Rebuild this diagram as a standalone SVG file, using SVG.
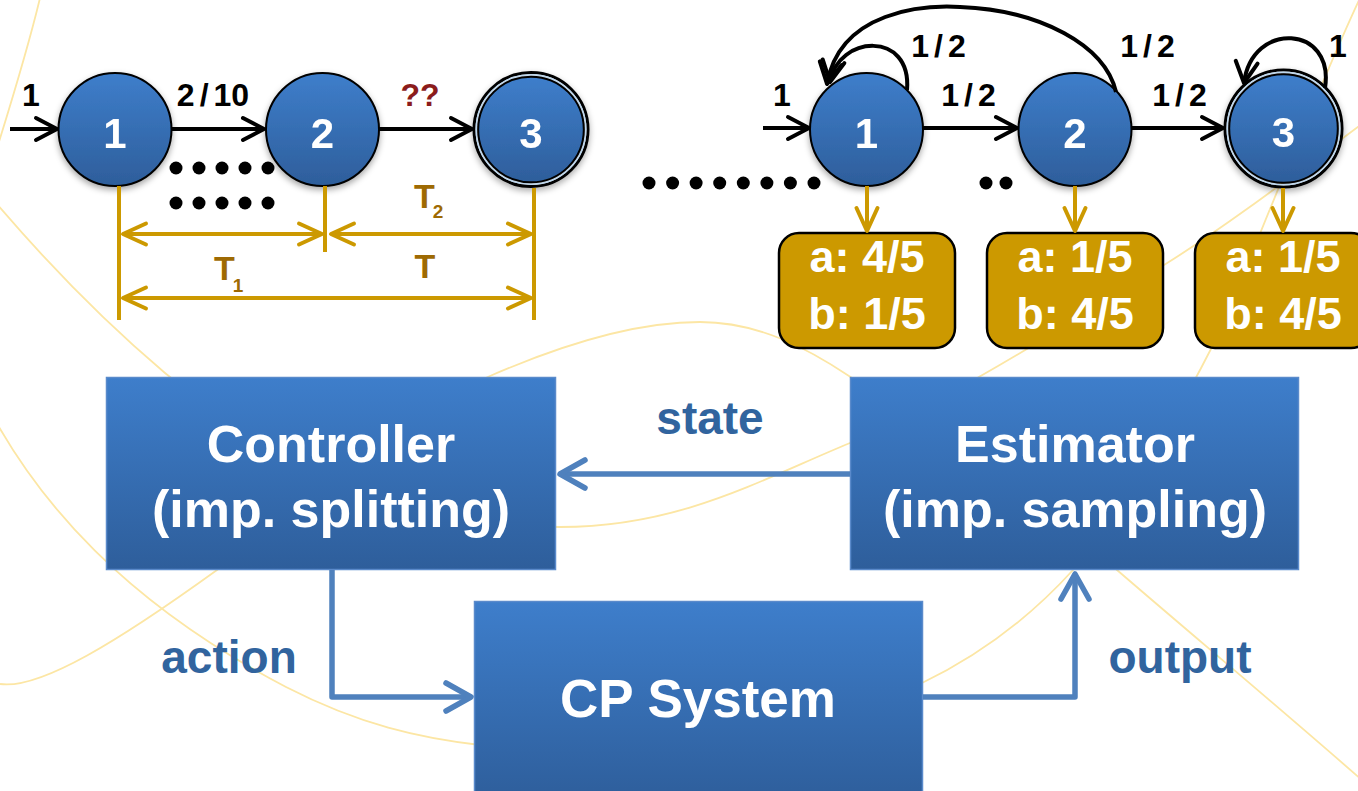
<svg xmlns="http://www.w3.org/2000/svg" width="1358" height="791" viewBox="0 0 1358 791">
  <defs>
    <linearGradient id="blueFill" x1="0" y1="0" x2="0" y2="1">
      <stop offset="0" stop-color="#3E7ECB"/>
      <stop offset="1" stop-color="#2E5E9B"/>
    </linearGradient>
    <filter id="nodeShadow" x="-30%" y="-30%" width="160%" height="170%">
      <feDropShadow dx="0" dy="3" stdDeviation="3" flood-color="#000" flood-opacity="0.35"/>
    </filter>
    <marker id="arrowBlack" viewBox="-26 -14 30 28" markerWidth="30" markerHeight="28" refX="0" refY="0" orient="auto-start-reverse" markerUnits="userSpaceOnUse">
      <path d="M-21,-11 L0,0 L-21,11" fill="none" stroke="#000" stroke-width="4" stroke-linecap="round" stroke-linejoin="round"/>
    </marker>
    <marker id="arrowGold" viewBox="-28 -14 32 28" markerWidth="32" markerHeight="28" refX="0" refY="0" orient="auto-start-reverse" markerUnits="userSpaceOnUse">
      <path d="M-23,-10.5 L0,0 L-23,10.5" fill="none" stroke="#CC9900" stroke-width="4" stroke-linecap="round" stroke-linejoin="round"/>
    </marker>
    <marker id="arrowBlue" viewBox="-30 -18 34 36" markerWidth="34" markerHeight="36" refX="0" refY="0" orient="auto-start-reverse" markerUnits="userSpaceOnUse">
      <path d="M-25,-14 L0,0 L-25,14" fill="none" stroke="#4F81BD" stroke-width="5.5" stroke-linecap="round" stroke-linejoin="round"/>
    </marker>
  </defs>
  <style>
    .deco { fill: none; stroke: #FCE6A4; stroke-width: 1.8; }
    .node { fill: url(#blueFill); stroke: #000; stroke-width: 2; }
    .nodeLabel { font-family: "Liberation Sans", Arial, sans-serif; font-weight: bold; font-size: 42px; fill: #fff; text-anchor: middle; }
    .edge { fill: none; stroke: #000; stroke-width: 4; marker-end: url(#arrowBlack); }
    .edgeLabel { font-family: "Liberation Sans", Arial, sans-serif; font-weight: bold; font-size: 32px; fill: #000; text-anchor: middle; letter-spacing: 5px; }
    .dot { fill: #000; }
    .dim { fill: none; stroke: #CC9900; stroke-width: 4; }
    .dimArrow { fill: none; stroke: #CC9900; stroke-width: 4; marker-start: url(#arrowGold); marker-end: url(#arrowGold); }
    .goldArrow { fill: none; stroke: #CC9900; stroke-width: 4; marker-end: url(#arrowGold); }
    .dimLabel { font-family: "Liberation Sans", Arial, sans-serif; font-weight: bold; font-size: 34px; fill: #9E6A03; }
    .emitBox { fill: #CC9900; stroke: #000; stroke-width: 2.5; }
    .emitText { font-family: "Liberation Sans", Arial, sans-serif; font-weight: bold; font-size: 45px; fill: #fff; text-anchor: middle; }
    .block { fill: url(#blueFill); stroke: #5A8ACB; stroke-width: 1.5; }
    .blockText { font-family: "Liberation Sans", Arial, sans-serif; font-weight: bold; font-size: 52px; fill: #fff; text-anchor: middle; }
    .flow { fill: none; stroke: #4F81BD; stroke-width: 5.5; stroke-linejoin: round; marker-end: url(#arrowBlue); }
    .flowLabel { font-family: "Liberation Sans", Arial, sans-serif; font-weight: bold; font-size: 46px; fill: #31649E; text-anchor: middle; }
  </style>

  <rect x="0" y="0" width="1358" height="791" fill="#fff"/>

  <!-- decorative background waves -->
  <g id="background-waves">
    <path class="deco" d="M40,-2 C30,40 12,100 -2,145"/>
    <path class="deco" d="M-10,196 C40,255 100,318 165,373 C260,453 430,527 560,527 C680,527 760,480 850,443 C930,410 1060,330 1164,265 C1230,224 1300,170 1370,118"/>
    <path class="deco" d="M-5,420 C40,500 120,600 286,687 C360,725 420,738 480,745"/>
    <path class="deco" d="M0,684 C40,690 120,640 217,570 C314,500 392,418 490,376 C568,342 640,322 700,322 C760,322 810,350 849,376 C946,441 1037,501 1117,570 C1197,639 1300,725 1380,796"/>
    <path class="deco" d="M1370,-22 C1345,24 1253,249 1238,290 C1218,345 1123,515 1073,570 C1023,625 970,660 922,683 C870,708 820,725 780,735"/>
  </g>

  <!-- left chain: nodes -->
  <g id="L1" filter="url(#nodeShadow)">
    <circle class="node" cx="115" cy="129.5" r="56.5"/>
    <text class="nodeLabel" x="115" y="148">1</text>
  </g>
  <g id="L2" filter="url(#nodeShadow)">
    <circle class="node" cx="322.5" cy="129.5" r="56.5"/>
    <text class="nodeLabel" x="322.5" y="148">2</text>
  </g>
  <g id="L3" filter="url(#nodeShadow)">
    <circle cx="531" cy="129.5" r="57" fill="none" stroke="#000" stroke-width="3"/>
    <circle cx="531" cy="129.5" r="54.8" fill="none" stroke="#BDD7EE" stroke-width="1.5"/>
    <circle class="node" cx="531" cy="129.5" r="52.8" stroke-width="2.5"/>
    <text class="nodeLabel" x="531" y="148">3</text>
  </g>

  <!-- right chain: nodes -->
  <g id="R1" filter="url(#nodeShadow)">
    <circle class="node" cx="866.5" cy="129.5" r="56.5"/>
    <text class="nodeLabel" x="866.5" y="148">1</text>
  </g>
  <g id="R2" filter="url(#nodeShadow)">
    <circle class="node" cx="1075" cy="129.5" r="56.5"/>
    <text class="nodeLabel" x="1075" y="148">2</text>
  </g>
  <g id="R3" filter="url(#nodeShadow)">
    <circle cx="1283.5" cy="128.5" r="58.5" fill="none" stroke="#000" stroke-width="3"/>
    <circle cx="1283.5" cy="128.5" r="56.3" fill="none" stroke="#BDD7EE" stroke-width="1.5"/>
    <circle class="node" cx="1283.5" cy="128.5" r="54.3" stroke-width="2.5"/>
    <text class="nodeLabel" x="1283.5" y="147">3</text>
  </g>

  <!-- emission boxes -->
  <g id="E1">
    <rect class="emitBox" x="779" y="233" width="176" height="115" rx="20"/>
    <text class="emitText" x="867" y="272">a: 4/5</text>
    <text class="emitText" x="867" y="329">b: 1/5</text>
  </g>
  <g id="E2">
    <rect class="emitBox" x="987" y="233" width="176" height="115" rx="20"/>
    <text class="emitText" x="1075" y="272">a: 1/5</text>
    <text class="emitText" x="1075" y="329">b: 4/5</text>
  </g>
  <g id="E3">
    <rect class="emitBox" x="1195" y="233" width="176" height="115" rx="20"/>
    <text class="emitText" x="1283" y="272">a: 1/5</text>
    <text class="emitText" x="1283" y="329">b: 4/5</text>
  </g>

  <!-- block diagram -->
  <g id="controller">
    <rect class="block" x="106.5" y="377.5" width="449" height="192"/>
    <text class="blockText" x="331" y="462">Controller</text>
    <text class="blockText" x="331" y="527">(imp. splitting)</text>
  </g>
  <g id="estimator">
    <rect class="block" x="850.5" y="377.5" width="448" height="192"/>
    <text class="blockText" x="1075" y="462">Estimator</text>
    <text class="blockText" x="1075" y="527">(imp. sampling)</text>
  </g>
  <g id="cp-system">
    <rect class="block" x="474.5" y="601.5" width="448" height="200"/>
    <text class="blockText" x="698" y="717" style="font-size:53px">CP System</text>
  </g>

  <!-- connectors -->
  <g id="connectors">
    <!-- left chain transitions -->
    <path class="edge" d="M10,129 H57"/>
    <path class="edge" d="M171,129 H264"/>
    <path class="edge" d="M379,129 H472"/>
    <text class="edgeLabel" x="31" y="106" style="letter-spacing:0">1</text>
    <text class="edgeLabel" x="213" y="106"><tspan style="letter-spacing:5px">2/</tspan><tspan style="letter-spacing:0">10</tspan></text>
    <text class="edgeLabel" x="420" y="106" style="fill:#8B1C1C;letter-spacing:0">??</text>

    <g id="left-dots">
      <circle class="dot" cx="176" cy="168" r="6.5"/>
      <circle class="dot" cx="199" cy="168" r="6.5"/>
      <circle class="dot" cx="222" cy="168" r="6.5"/>
      <circle class="dot" cx="245" cy="168" r="6.5"/>
      <circle class="dot" cx="268" cy="168" r="6.5"/>
      <circle class="dot" cx="176" cy="203" r="6.5"/>
      <circle class="dot" cx="199" cy="203" r="6.5"/>
      <circle class="dot" cx="222" cy="203" r="6.5"/>
      <circle class="dot" cx="245" cy="203" r="6.5"/>
      <circle class="dot" cx="268" cy="203" r="6.5"/>
    </g>

    <!-- timing dimensions -->
    <path class="dim" d="M119,186 V320"/>
    <path class="dim" d="M325,186 V252"/>
    <path class="dim" d="M534,188 V320"/>
    <path class="dimArrow" d="M123,234 H322"/>
    <path class="dimArrow" d="M331,234 H531"/>
    <path class="dimArrow" d="M123,298 H531"/>
    <text class="dimLabel" x="414" y="208">T<tspan font-size="19" dx="-2" dy="10">2</tspan></text>
    <text class="dimLabel" x="214" y="280">T<tspan font-size="19" dx="-2" dy="12">1</tspan></text>
    <text class="dimLabel" x="425" y="278" text-anchor="middle">T</text>

    <!-- right chain transitions -->
    <path class="edge" d="M763,128 H809"/>
    <path class="edge" d="M923,128 H1017"/>
    <path class="edge" d="M1132,128 H1223"/>
    <path class="edge" d="M907,90 C912,30 838,35 830,82"/>
    <path class="edge" d="M1116,92 C1105,45 1040,10 960,7 C925,5 840,10 827,84"/>
    <path class="edge" d="M1325,88 C1335,25 1252,20 1244,83"/>
    <text class="edgeLabel" x="782" y="106" style="letter-spacing:0">1</text>
    <text class="edgeLabel" x="971" y="106">1/2</text>
    <text class="edgeLabel" x="1182" y="106">1/2</text>
    <text class="edgeLabel" x="941" y="57">1/2</text>
    <text class="edgeLabel" x="1150" y="57">1/2</text>
    <text class="edgeLabel" x="1338" y="57" style="letter-spacing:0">1</text>

    <g id="right-dots">
      <circle class="dot" cx="649" cy="183" r="6.5"/>
      <circle class="dot" cx="672.6" cy="183" r="6.5"/>
      <circle class="dot" cx="696.1" cy="183" r="6.5"/>
      <circle class="dot" cx="719.7" cy="183" r="6.5"/>
      <circle class="dot" cx="743.3" cy="183" r="6.5"/>
      <circle class="dot" cx="766.9" cy="183" r="6.5"/>
      <circle class="dot" cx="790.4" cy="183" r="6.5"/>
      <circle class="dot" cx="814" cy="183" r="6.5"/>
      <circle class="dot" cx="986" cy="183" r="6.5"/>
      <circle class="dot" cx="1006" cy="183" r="6.5"/>
    </g>

    <!-- emissions -->
    <path class="goldArrow" d="M867,186 V231"/>
    <path class="goldArrow" d="M1075,186 V231"/>
    <path class="goldArrow" d="M1283,188 V231"/>

    <!-- control loop -->
    <path class="flow" d="M850,474 H560"/>
    <path class="flow" d="M332,570 V697 H471"/>
    <path class="flow" d="M923,697 H1075 V574"/>
    <text class="flowLabel" x="710" y="434">state</text>
    <text class="flowLabel" x="229" y="673">action</text>
    <text class="flowLabel" x="1180" y="673">output</text>
  </g>
</svg>
